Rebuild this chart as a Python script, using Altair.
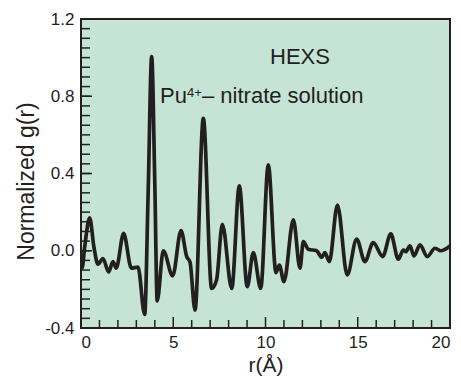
import altair as alt
import pandas as pd

# g(r) curve
r_vals = [0.0, 0.06, 0.2, 0.47, 0.7, 0.92, 1.19, 1.5, 1.73, 1.91, 2.31, 2.73, 3.09, 3.45, 3.64,
          3.83, 4.0, 4.13, 4.46, 4.97, 5.42, 5.73, 5.91, 6.18, 6.63, 7.08, 7.35, 7.66, 8.17,
          8.58, 9.01, 9.34, 9.74, 10.15, 10.57, 10.75, 11.0, 11.51, 11.87, 12.05, 12.32, 12.77,
          13.05, 13.22, 13.46, 13.9, 14.43, 14.94, 15.39, 15.84, 16.35, 16.79, 17.2, 17.47,
          17.6, 17.83, 18.05, 18.37, 18.77, 19.19, 19.5, 20.0]
g_vals = [-0.05, -0.09, 0.02, 0.17, 0.02, -0.07, -0.04, -0.11, -0.056, -0.09, 0.09, -0.09,
          -0.085, -0.33, 0.3, 1.005, 0.35, -0.26, 0.0, -0.13, 0.104, -0.03, -0.06, -0.307,
          0.686, -0.195, -0.15, 0.137, -0.195, 0.336, -0.186, -0.01, -0.195, 0.445, -0.113,
          -0.074, -0.16, 0.16, -0.09, 0.047, 0.008, 0.0, -0.034, -0.01, -0.056, 0.237, -0.125,
          0.06, -0.056, 0.042, -0.03, 0.087, -0.044, 0.004, -0.005, 0.025, -0.027, 0.03, -0.03,
          0.013, 0.0, 0.025]

x_major = [0, 5, 10, 15, 20]
x_minor = [1, 2, 3, 4, 6, 7, 8, 9, 11, 12, 13, 14, 16, 17, 18, 19]
y_major = [-0.4, 0.0, 0.4, 0.8, 1.2]
y_minor = [round(-0.4 + 0.05 * i, 2) for i in range(33)]

INK = "#231f20"
FONT = "Liberation Sans"
W, H = 369, 309

df = pd.DataFrame({"r": r_vals, "g": g_vals})

xs = alt.Scale(domain=[0, 20], nice=False, zero=False)
ys = alt.Scale(domain=[-0.4, 1.2], nice=False, zero=False)

line = alt.Chart(df).mark_line(color=INK, strokeWidth=3.7, interpolate="monotone", clip=True).encode(
    x=alt.X("r:Q", scale=xs, title="r(Å)",
            axis=alt.Axis(values=x_major, ticks=False, domain=False, grid=False,
                          labelFontSize=17, labelPadding=6, titleFontSize=21,
                          titlePadding=4, labelColor=INK, titleColor=INK)),
    y=alt.Y("g:Q", scale=ys, title="Normalized g(r)",
            axis=alt.Axis(values=y_major, ticks=False, domain=False, grid=False,
                          labelExpr="datum.value < 0 ? '-' + format(-datum.value, '.1f') : format(datum.value, '.1f')",
                          labelFontSize=17, labelPadding=7, titleFontSize=23,
                          titlePadding=6, titleY=162, labelColor=INK, titleColor=INK)),
)

xminor = alt.Chart(pd.DataFrame({"t": x_minor})).mark_rule(color=INK, strokeWidth=1.5).encode(
    x=alt.X("t:Q", scale=xs), y=alt.value(H), y2=alt.value(H - 8))
xmajor = alt.Chart(pd.DataFrame({"t": x_major})).mark_rule(color=INK, strokeWidth=1.5).encode(
    x=alt.X("t:Q", scale=xs), y=alt.value(H), y2=alt.value(H - 11))
yminor = alt.Chart(pd.DataFrame({"t": y_minor})).mark_rule(color=INK, strokeWidth=1.5).encode(
    y=alt.Y("t:Q", scale=ys), x=alt.value(0), x2=alt.value(9))
ymajor = alt.Chart(pd.DataFrame({"t": y_major})).mark_rule(color=INK, strokeWidth=1.5).encode(
    y=alt.Y("t:Q", scale=ys), x=alt.value(0), x2=alt.value(11))

def label(text, x, y, size):
    return alt.Chart(pd.DataFrame({"s": [text]})).mark_text(
        font=FONT, fontSize=size, color=INK, align="left", baseline="alphabetic").encode(
        text="s:N", x=alt.value(x), y=alt.value(y))

texts = (label("HEXS", 189, 45, 22) + label("Pu", 79, 84, 22) +
         label("4+", 106, 77.5, 13) + label("– nitrate solution", 121, 84, 22))

chart = alt.layer(line, xminor, xmajor, yminor, ymajor, texts).properties(
    width=W, height=H,
    autosize=alt.AutoSizeParams(type="none"),
    padding={"left": 81, "top": 19, "right": 11, "bottom": 51},
    background="white",
).configure_view(
    fill="#c6e4d6", stroke=INK, strokeWidth=2
).configure_axis(
    labelFont=FONT, titleFont=FONT, titleFontWeight="normal"
)

chart.save("out.html", embed_options={"renderer": "svg", "actions": False})
